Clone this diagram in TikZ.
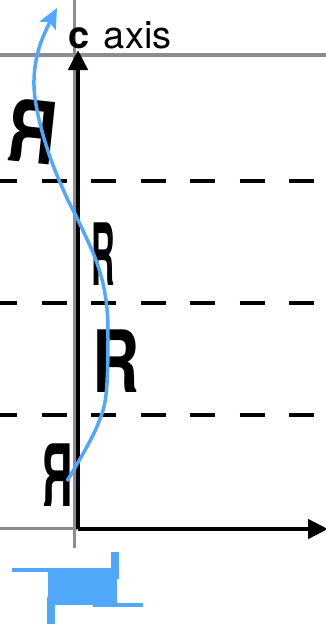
\documentclass[tikz,border=0pt]{standalone}
\usepackage{fontspec}
\setmainfont{TeX Gyre Heros}
\usetikzlibrary{arrows.meta}
\definecolor{axisgray}{RGB}{140,140,145}
\definecolor{skyblue}{RGB}{80,168,250}
\begin{document}
\begin{tikzpicture}[x=1pt,y=-1pt,
 grayline/.style={axisgray,line width=3.2pt},
 axisline/.style={black,line width=4.5pt},
 layerline/.style={black,line width=4.5pt,dash pattern=on 25pt off 24.5pt,dash phase=8pt},
 motif/.style={inner sep=0pt,font=\fontsize{86}{86}\selectfont\bfseries},
 screwpath/.style={skyblue,line width=3.5pt,-{Stealth[length=20pt,width=18pt,inset=4pt]}},
 symbolline/.style={skyblue,line width=4pt},
 symbolbar/.style={skyblue,line width=8pt}]
\useasboundingbox (0,0) rectangle (326,624);
% gray frame lines
\draw[grayline] (0,55) -- (326,55);
\draw[grayline] (74.5,0) -- (74.5,548);
\draw[grayline] (0,528.5) -- (77,528.5);
% dashed layer lines
\draw[layerline] (0,181) -- (326,181);
\draw[layerline] (0,303) -- (326,303);
\draw[layerline] (0,415) -- (326,415);
% axes
\coordinate (O) at (78,529);
\coordinate (ctip) at (78,50);
\coordinate (atip) at (328,529);
\draw[axisline,-{Triangle[length=20pt,width=19pt]}] (O) -- (ctip);
\draw[axisline,-{Triangle[length=20pt,width=19pt]}] (O) -- (atip);
\node[anchor=base west,inner sep=0pt,font=\fontsize{38}{38}\selectfont] (clabel) at (68,48) {\textbf{c}\kern4pt{} axis};
% motifs
\node[motif] (r1) at (33,132) {\rotatebox{-6}{\scalebox{-0.8}[1]{R}}};
\node[motif] (r2) at (103,254) {\scalebox{0.38}[1]{R}};
\node[motif] (r3) at (116,361) {\scalebox{0.76}[1]{R}};
\node[motif] (r4) at (58,475) {\scalebox{-0.5}[1]{R}};
% screw path
\draw[screwpath] plot[smooth,tension=0.6] coordinates {(67,481) (84,452) (98,424) (106,395) (108,340) (106,300) (97,263) (78,220) (66,196) (50,157) (38,115) (34,80) (40,45) (57,8)};
% screw axis symbol
\fill[skyblue] (48,568) rectangle (117,605);
\draw[symbolline] (12,569.5) -- (60,569.5);
\draw[symbolbar] (115,552) -- (115,579);
\draw[symbolline] (93,604.5) -- (143,604.5);
\draw[symbolbar] (51,597) -- (51,624);
\end{tikzpicture}
\end{document}
